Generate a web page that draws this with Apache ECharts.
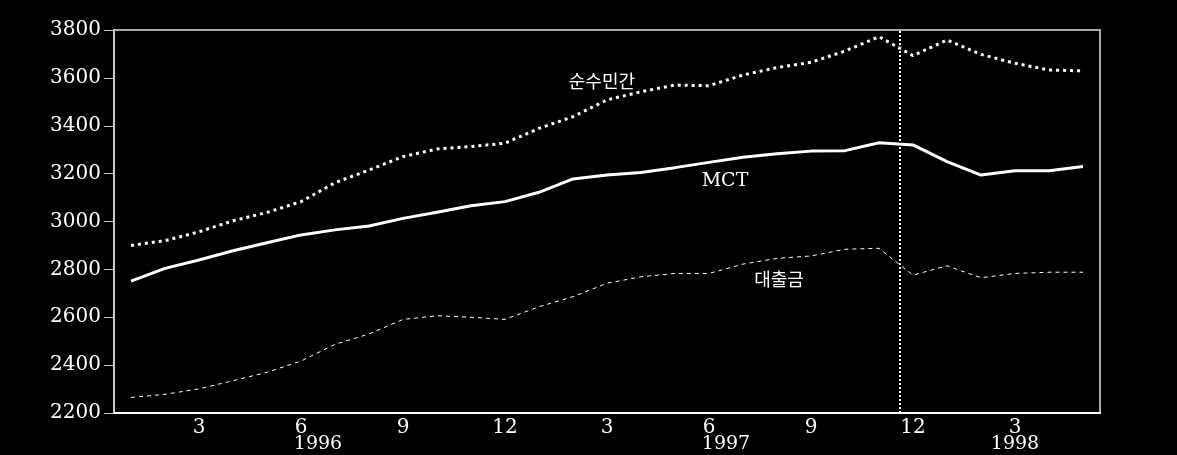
<!DOCTYPE html>
<html><head><meta charset="utf-8">
<script src="https://cdn.jsdelivr.net/npm/echarts@6/dist/echarts.min.js"></script>
<style>html,body{margin:0;padding:0;background:#000}#c{width:1177px;height:455px}</style>
</head><body><div id="c"></div>
<script>
// Months Jan 1996 .. May 1998
const months = ['1','2','3','4','5','6','7','8','9','10','11','12',
                '1','2','3','4','5','6','7','8','9','10','11','12',
                '1','2','3','4','5'];
const years = ['1996','1997','1998'];
const yearOfMonth = [0,0,0,0,0,0,0,0,0,0,0,0, 1,1,1,1,1,1,1,1,1,1,1,1, 2,2,2,2,2];

const seriesPrivate = [2900,2920,2957,3003,3038,3083,3162,3215,3271,3303,3313,3327,
                       3389,3438,3508,3542,3570,3567,3612,3643,3665,3712,3772,3693,
                       3758,3698,3661,3633,3629];
const seriesMCT = [2751,2804,2839,2878,2911,2944,2965,2981,3013,3039,3066,3083,
                   3122,3178,3194,3205,3225,3247,3268,3283,3294,3296,3329,3320,
                   3250,3194,3212,3212,3230];
const seriesLoans = [2265,2278,2301,2335,2370,2417,2487,2530,2591,2606,2600,2591,
                     2644,2686,2742,2769,2783,2783,2822,2846,2856,2884,2888,2776,
                     2815,2765,2783,2788,2788];

const seriesNames = ['순수민간','MCT','대출금'];
const labelPos = [[13.85, 3587],[17.47, 3169],[19.06, 2760]];
const breakPos = 22.6;
const yTicks = {min:2200, max:3800, step:200};

// year label centres from category spans
const yearCenters = years.map((y, k) => {
  const idx = yearOfMonth.map((v,i)=>v===k?i:-1).filter(i=>i>=0);
  return (idx[0] + idx[idx.length-1]) / 2;
});

const chart = echarts.init(document.getElementById('c'), null, {renderer:'canvas'});
const axisFont = {color:'#fff', fontFamily:'DejaVu Serif', fontSize:20};
chart.setOption({
  backgroundColor:'#000',
  animation:false,
  grid:{left:114, right:77, top:30, bottom:42, show:true, borderColor:'#a8a8a8', borderWidth:2},
  xAxis:[{
    type:'category', data:months, boundaryGap:true,
    axisLine:{onZero:false, lineStyle:{color:'#fff', width:2}},
    axisTick:{alignWithLabel:true, interval:0, length:5, lineStyle:{color:'#fff', width:1}},
    axisLabel:Object.assign({interval:(i)=>i%3===2, margin:5}, axisFont),
    splitLine:{show:false}
  },{
    type:'value', min:-0.5, max:28.5, position:'bottom',
    axisLine:{show:false, onZero:false}, axisTick:{show:false}, splitLine:{show:false},
    axisLabel:Object.assign({
      customValues:yearCenters, margin:22,
      formatter:(v)=>{ const k = yearCenters.findIndex(c=>Math.abs(c-v)<1e-6); return k>=0?years[k]:''; }
    }, axisFont, {fontSize:19})
  }],
  yAxis:{
    type:'value', min:yTicks.min, max:yTicks.max, interval:yTicks.step,
    axisLine:{show:true, onZero:false, lineStyle:{color:'#c8c8c8', width:2}},
    axisTick:{show:true, length:10, lineStyle:{color:'#c8c8c8', width:1}},
    axisLabel:Object.assign({margin:13, formatter:(v)=>String(v)}, axisFont),
    splitLine:{show:false}
  },
  series:[
    {name:seriesNames[0], type:'line', data:seriesPrivate, symbol:'none',
     lineStyle:{color:'#fff', width:3, type:[3,4]}},
    {name:seriesNames[1], type:'line', data:seriesMCT, symbol:'none',
     lineStyle:{color:'#fff', width:3}},
    {name:seriesNames[2], type:'line', data:seriesLoans, symbol:'none',
     lineStyle:{color:'#fff', width:1, type:[4,4]}},
    {type:'line', xAxisIndex:1, data:[], symbol:'none', silent:true,
     markLine:{silent:true, symbol:'none', label:{show:false},
       lineStyle:{color:'#fff', width:2, type:[2,2]},
       data:[{xAxis:breakPos}]},
     markPoint:{silent:true, symbol:'circle', symbolSize:1, itemStyle:{color:'rgba(0,0,0,0)'},
       data: seriesNames.map((n,i)=>({name:n, coord:labelPos[i],
         label:{show:true, position:'inside', formatter:n, color:'#fff',
           fontFamily: i===1 ? 'DejaVu Serif' : 'Noto Sans CJK KR',
           fontSize: i===1 ? 19 : 18}}))}
    }
  ]
});
</script></body></html>
